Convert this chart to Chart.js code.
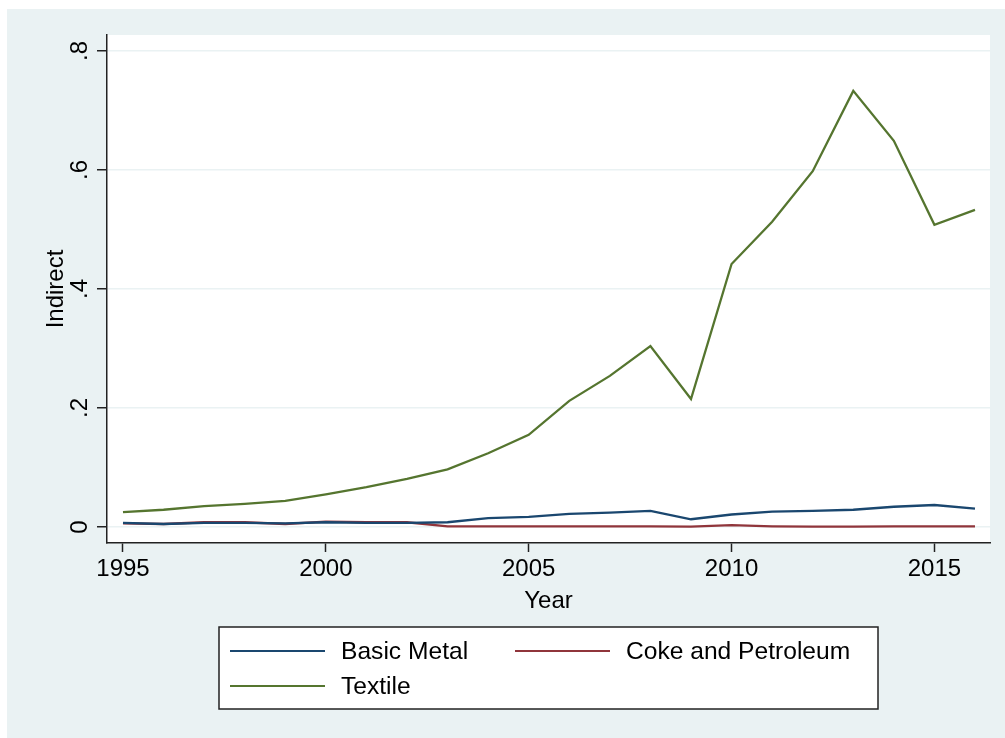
<!DOCTYPE html>
<html lang="en">
<head>
    <meta charset="UTF-8">
    <title>Indirect by Year</title>
    <script src="https://cdn.jsdelivr.net/npm/chart.js"></script>
    <style>
        html, body { margin: 0; padding: 0; background: #ffffff; }
        #wrap { position: absolute; left: 0; top: 0; width: 1005px; height: 738px; }
    </style>
</head>
<body>
    <div id="wrap"><canvas id="indirectChart" width="1005" height="738"></canvas></div>
    <script>
        // data
        const years = [1995, 1996, 1997, 1998, 1999, 2000, 2001, 2002, 2003, 2004, 2005,
                       2006, 2007, 2008, 2009, 2010, 2011, 2012, 2013, 2014, 2015, 2016];
        const basicMetal = [0.007, 0.005, 0.007, 0.007, 0.006, 0.008, 0.007, 0.007, 0.008, 0.015, 0.017,
                            0.022, 0.024, 0.027, 0.013, 0.021, 0.026, 0.027, 0.029, 0.034, 0.037, 0.031];
        const cokePetroleum = [0.006, 0.005, 0.008, 0.008, 0.005, 0.009, 0.008, 0.008, 0.001, 0.001, 0.001,
                               0.001, 0.001, 0.001, 0.0005, 0.003, 0.001, 0.0005, 0.0005, 0.001, 0.001, 0.001];
        const textile = [0.025, 0.029, 0.035, 0.039, 0.044, 0.055, 0.067, 0.081, 0.097, 0.124, 0.155,
                         0.212, 0.254, 0.304, 0.215, 0.442, 0.513, 0.598, 0.733, 0.649, 0.508, 0.533];
        const seriesNames = ['Basic Metal', 'Coke and Petroleum', 'Textile'];
        const xTicks = [1995, 2000, 2005, 2010, 2015];
        const yTicks = [0, 0.2, 0.4, 0.6, 0.8];
        const yTickLabels = ['0', '.2', '.4', '.6', '.8'];

        const FONT = '"Liberation Sans", Arial, sans-serif';
        const colors = ['#1a476f', '#90353b', '#55752f'];

        function pts(vals) {
            return years.map((y, i) => ({ x: y, y: vals[i] }));
        }

        // backgrounds, rotated y labels, axis titles and boxed legend
        const stataLook = {
            id: 'stataLook',
            beforeDraw(chart) {
                const ctx = chart.ctx;
                const a = chart.chartArea;
                ctx.save();
                ctx.fillStyle = '#eaf2f3';
                ctx.fillRect(7, 9, 998, 729);
                ctx.fillStyle = '#ffffff';
                ctx.fillRect(a.left, a.top, a.right - a.left, a.bottom - a.top);
                ctx.restore();
            },
            afterDraw(chart) {
                const ctx = chart.ctx;
                const yScale = chart.scales.y;
                const a = chart.chartArea;
                ctx.save();
                ctx.fillStyle = '#000000';
                ctx.font = '24px ' + FONT;
                ctx.textAlign = 'center';
                ctx.textBaseline = 'alphabetic';

                yTicks.forEach((v, i) => {
                    const py = yScale.getPixelForValue(v);
                    ctx.save();
                    ctx.translate(87, py);
                    ctx.rotate(-Math.PI / 2);
                    ctx.fillText(yTickLabels[i], 0, 0);
                    ctx.restore();
                });

                ctx.save();
                ctx.translate(63, (a.top + a.bottom) / 2);
                ctx.rotate(-Math.PI / 2);
                ctx.fillText('Indirect', 0, 0);
                ctx.restore();

                ctx.fillText('Year', (a.left + a.right) / 2, 608);

                // legend box
                ctx.fillStyle = '#ffffff';
                ctx.fillRect(219, 627, 659, 82);
                ctx.strokeStyle = '#222222';
                ctx.lineWidth = 1.5;
                ctx.strokeRect(219, 627, 659, 82);

                const slots = [[230, 651], [515, 651], [230, 686]];
                ctx.font = '24.6px ' + FONT;
                ctx.textAlign = 'left';
                ctx.textBaseline = 'middle';
                chart.data.datasets.forEach((ds, i) => {
                    const [lx, ly] = slots[i];
                    ctx.strokeStyle = ds.borderColor;
                    ctx.lineWidth = 2;
                    ctx.beginPath();
                    ctx.moveTo(lx, ly);
                    ctx.lineTo(lx + 95, ly);
                    ctx.stroke();
                    ctx.fillStyle = '#000000';
                    ctx.fillText(ds.label, lx + 111, ly + 1);
                });
                ctx.restore();
            }
        };

        new Chart(document.getElementById('indirectChart'), {
            type: 'line',
            data: {
                datasets: [basicMetal, cokePetroleum, textile].map((vals, i) => ({
                    label: seriesNames[i],
                    data: pts(vals),
                    borderColor: colors[i],
                    backgroundColor: colors[i],
                    borderWidth: 2.3,
                    pointRadius: 0,
                    tension: 0,
                    fill: false
                }))
            },
            options: {
                responsive: false,
                animation: false,
                devicePixelRatio: 1,
                layout: { padding: { left: 0, top: 35, right: 15, bottom: 0 } },
                plugins: {
                    legend: { display: false },
                    tooltip: { enabled: false }
                },
                scales: {
                    x: {
                        type: 'linear',
                        min: 1994.606,
                        max: 2016.37,
                        afterBuildTicks: axis => { axis.ticks = xTicks.map(v => ({ value: v })); },
                        afterFit: axis => { axis.height = 195; },
                        grid: {
                            drawOnChartArea: false,
                            tickLength: 9,
                            tickColor: '#222222',
                            tickWidth: 1.5
                        },
                        border: { color: '#222222', width: 1.5 },
                        ticks: {
                            callback: v => String(v),
                            color: '#000000',
                            font: { family: FONT, size: 24 },
                            padding: 3,
                            maxRotation: 0
                        }
                    },
                    y: {
                        min: -0.0269,
                        max: 0.8269,
                        afterBuildTicks: axis => { axis.ticks = yTicks.map(v => ({ value: v })); },
                        afterFit: axis => { axis.width = 107; },
                        grid: {
                            color: '#eaf2f3',
                            lineWidth: 1.5,
                            tickLength: 10,
                            tickColor: '#222222',
                            tickWidth: 1.5
                        },
                        border: { color: '#222222', width: 1.5 },
                        ticks: { display: false }
                    }
                }
            },
            plugins: [stataLook]
        });
    </script>
</body>
</html>
